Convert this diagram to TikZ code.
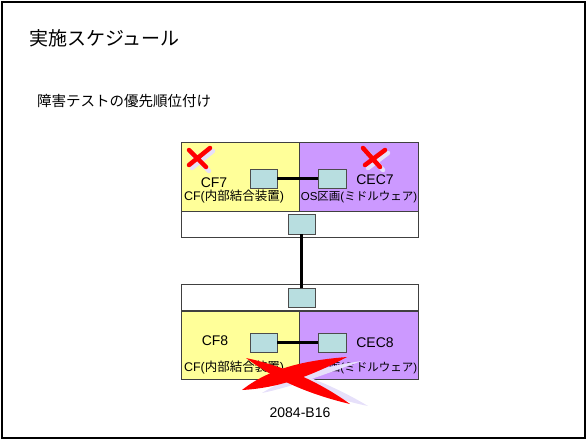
\documentclass[tikz,border=0pt]{standalone}
\usepackage{fontspec}
\setmainfont{Liberation Sans}
\newfontfamily\jp{Noto Sans CJK JP}
\definecolor{cfyellow}{RGB}{255,255,153}
\definecolor{cecpurple}{RGB}{204,153,255}
\definecolor{portcyan}{RGB}{184,222,224}
\definecolor{shadowlav}{RGB}{230,224,250}
\begin{document}
\begin{tikzpicture}[
        x=1pt, y=-1pt,
        every node/.style={inner sep=0pt},
        cfhalf/.style={draw=black!75, line width=1pt, fill=cfyellow,
            minimum width=117.5pt, minimum height=69pt},
        cechalf/.style={draw=black!75, line width=1pt, fill=cecpurple,
            minimum width=119pt, minimum height=69pt},
        strip/.style={draw=black!75, line width=1pt, fill=white,
            minimum width=236.5pt, minimum height=26pt},
        port/.style={draw=black!70, line width=0.8pt, fill=portcyan,
            minimum width=27pt, minimum height=19pt},
        hostlabel/.style={font=\fontsize{14}{16}\selectfont},
        rolelabel/.style={font=\fontsize{11.5}{13}\selectfont},
        link/.style={line width=2.2pt},
        cross/.style={red, line width=4.5pt, line cap=round},
        crossshade/.style={shadowlav, line width=4.5pt, line cap=round}]
    \useasboundingbox (0,0) rectangle (588,441);
    \draw[line width=1.5pt] (2,2) rectangle (585,438);

    \node[anchor=west, font=\jp\fontsize{19}{22}\selectfont] (title) at (29,38) {実施スケジュール};
    \node[anchor=west, font=\jp\fontsize{14.5}{16}\selectfont] (sub) at (37,101) {障害テストの優先順位付け};

    % upper machine
    \node[cfhalf] (cf7) at (240.25,176.5) {};
    \node[cechalf] (cec7) at (358.5,176.5) {};
    \node[strip] (sw7) at (299.75,224) {};
    \node[port] (cf7p) at (263.5,178.5) {};
    \node[port, minimum width=28pt] (cec7p) at (332,178.5) {};
    \node[port, minimum height=20pt] (sw7p) at (301.5,224) {};
    \node[hostlabel] (cf7n) at (214,183) {CF7};
    \node[hostlabel] (cec7n) at (375,180) {CEC7};
    \node[rolelabel, font=\fontsize{12.5}{14}\selectfont] (cf7r) at (234,197) {CF({\jp 内部結合装置})};
    \node[rolelabel] (cec7r) at (359,197) {OS{\jp 区画}({\jp ミドルウェア})};

    % lower machine
    \node[strip] (sw8) at (300,297.5) {};
    \node[cfhalf, minimum height=68pt] (cf8) at (240.25,345) {};
    \node[cechalf, minimum height=68pt] (cec8) at (358.5,345) {};
    \node[port] (sw8p) at (301.5,297.5) {};
    \node[port] (cf8p) at (263.5,342.5) {};
    \node[port, minimum width=28pt] (cec8p) at (332,342.5) {};
    \node[hostlabel] (cf8n) at (215,341) {CF8};
    \node[hostlabel] (cec8n) at (375,343) {CEC8};
    \node[rolelabel, font=\fontsize{12.5}{14}\selectfont] (cf8r) at (234,368) {CF({\jp 内部結合装置})};
    \node[rolelabel] (cec8r) at (359,368) {OS{\jp 区画}({\jp ミドルウェア})};

    \node[hostlabel] (model) at (300,413) {2084-B16};

    \draw[link] (cf7p) -- (cec7p);
    \draw[link] (cf8p) -- (cec8p);
    \draw[link] (sw7p) -- (sw8p);

    % crosses
    \draw[crossshade] (191,153) -- (209,171) (192,168) -- (213,151);
    \draw[cross] (189,150) -- (206,167) (189,165) -- (210,148);
    \draw[crossshade] (366,151) -- (383,170) (368,168) -- (388,153);
    \draw[cross] (363,148) -- (380,167) (365,165) -- (385,150);
    \fill[shadowlav] (266,364) .. controls (303,373) and (338,388) .. (368,406)
        .. controls (333,399) and (298,385) .. (266,364) -- cycle;
    \fill[shadowlav] (262,393) .. controls (296,386) and (330,372) .. (362,361)
        .. controls (328,366) and (292,374) .. (262,393) -- cycle;
    \fill[red] (246,358) .. controls (283,366) and (318,381) .. (350,404)
        .. controls (312,395) and (277,381) .. (246,358) -- cycle;
    \fill[red] (242,390) .. controls (281,388) and (315,374) .. (347,357)
        .. controls (309,360) and (271,367) .. (242,390) -- cycle;
\end{tikzpicture}
\end{document}
